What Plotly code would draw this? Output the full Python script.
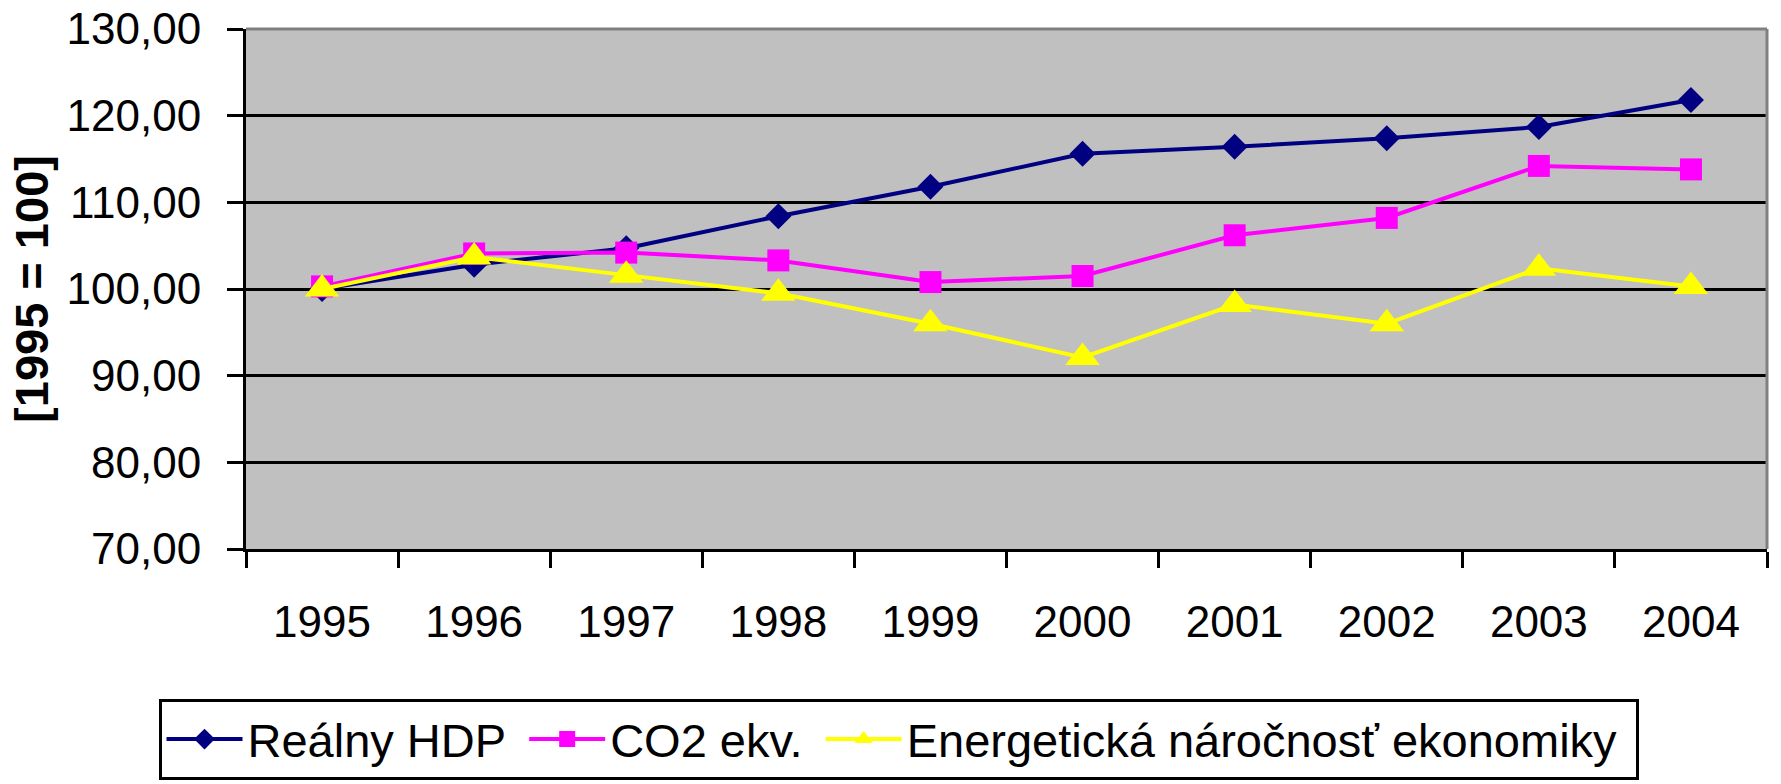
import plotly.graph_objects as go

years = ["1995", "1996", "1997", "1998", "1999", "2000", "2001", "2002", "2003", "2004"]
hdp = [100.0, 102.8, 104.7, 108.4, 111.8, 115.6, 116.4, 117.4, 118.7, 121.8]
co2 = [100.3, 104.1, 104.2, 103.3, 100.8, 101.5, 106.2, 108.2, 114.2, 113.8]
energy = [100.0, 103.7, 101.6, 99.5, 96.0, 92.1, 98.2, 96.0, 102.4, 100.3]

names = ["Reálny HDP", "CO2 ekv.", "Energetická náročnosť ekonomiky"]
colors = ["#000080", "#FF00FF", "#FFFF00"]
symbols = ["diamond", "square", "triangle-up"]
sizes = [20, 22, 30]
yticks = [70, 80, 90, 100, 110, 120, 130]

FONT = "Liberation Sans, Arial, sans-serif"
PAD = "\u00a0"

fig = go.Figure()
for name, vals, col, sym, sz in zip(names, [hdp, co2, energy], colors, symbols, sizes):
    fig.add_trace(go.Scatter(
        x=years, y=vals, name=name + PAD, mode="lines+markers",
        line=dict(color=col, width=4),
        marker=dict(symbol=sym, size=sz, color=col, line=dict(width=0)),
    ))

fig.update_layout(
    width=1781, height=784,
    margin=dict(l=246, r=14, t=29, b=235, autoexpand=False),
    paper_bgcolor="white",
    plot_bgcolor="#C0C0C0",
    separators=",.",
    font=dict(family=FONT, size=44, color="black"),
    showlegend=True,
    legend=dict(
        orientation="h",
        xref="container", yref="container",
        x=0.5045, xanchor="center",
        y=0.1084, yanchor="top",
        bordercolor="black", borderwidth=3,
        bgcolor="white",
        font=dict(family=FONT, size=47, color="black"),
        itemwidth=76,
        tracegroupgap=0,
    ),
    xaxis=dict(
        type="category",
        range=[-0.5, 9.5],
        automargin=False,
        tickson="boundaries",
        ticks="outside", ticklen=16, tickwidth=3, tickcolor="black",
        showline=True, linecolor="black", linewidth=3,
        showgrid=False,
        tickfont=dict(family=FONT, size=44),
        ticklabelstandoff=32,
    ),
    yaxis=dict(
        range=[70, 130],
        automargin=False,
        tickvals=yticks,
        tickformat=".2f",
        ticks="outside", ticklen=16, tickwidth=3, tickcolor="black",
        showline=True, linecolor="black", linewidth=3,
        showgrid=True, gridcolor="black", gridwidth=3,
        zeroline=False,
        tickfont=dict(family=FONT, size=44),
        ticklabelstandoff=17,
        title=dict(text="<b>[1995 = 100]</b>", font=dict(family=FONT, size=47), standoff=4),
    ),
)

# grey frame on top and right edges of the plot area
fig.add_shape(type="line", xref="paper", yref="paper", x0=0, x1=1, y0=1, y1=1,
              line=dict(color="#808080", width=3))
fig.add_shape(type="line", xref="paper", yref="paper", x0=1, x1=1, y0=0, y1=1,
              line=dict(color="#808080", width=3))

fig.write_html("out.html", config={"displayModeBar": False},
               post_script="document.body.style.margin='0';")
